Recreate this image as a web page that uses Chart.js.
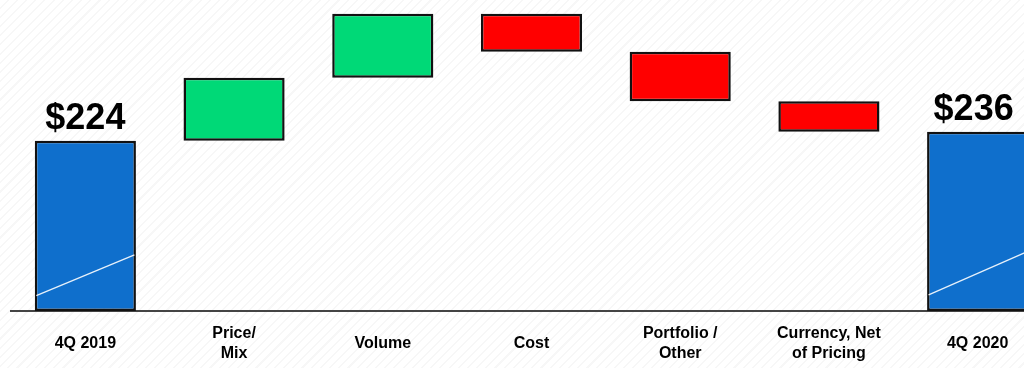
<!DOCTYPE html>
<html>
<head>
<meta charset="utf-8">
<script src="https://cdn.jsdelivr.net/npm/chart.js@4.4.1/dist/chart.umd.min.js"></script>
<style>
  html, body {
    margin: 0;
    padding: 0;
    width: 1024px;
    height: 368px;
    overflow: hidden;
    background-color: #ffffff;
    background-image: repeating-linear-gradient(135deg, rgba(0,0,0,0) 0px, rgba(0,0,0,0) 5px, rgba(0,0,0,0.03) 5px, rgba(0,0,0,0.03) 6.5px);
  }
  #wrap { position: absolute; left: 0; top: 0; width: 1052px; height: 368px; }
</style>
</head>
<body>
<div id="wrap"><canvas id="chart" width="1052" height="368"></canvas></div>
<script>
// Bridge categories (first and last are totals)
const categories = [
  '4Q 2019',
  ['Price/', 'Mix'],
  'Volume',
  'Cost',
  ['Portfolio /', 'Other'],
  ['Currency, Net', 'of Pricing'],
  '4Q 2020'
];
const startTotal = 224;
const endTotal = 236;
// Step changes between the two totals
const changes = [83, 84, -50, -65, -40];
const totalLabels = ['$224', '$236'];

const COLOR_TOTAL = '#0f6fcc';
const COLOR_UP = '#00d977';
const COLOR_DOWN = '#ff0000';

// Floating ranges for each bar
const ranges = [[0, startTotal]];
let running = startTotal;
changes.forEach(c => {
  ranges.push([running, running + c]);
  running += c;
});
ranges.push([0, endTotal]);

const colors = ranges.map((r, i) => {
  if (i === 0 || i === ranges.length - 1) return COLOR_TOTAL;
  return changes[i - 1] >= 0 ? COLOR_UP : COLOR_DOWN;
});

// Value labels above the two total bars, and the thin highlight line inside them
const totalsPlugin = {
  id: 'totals',
  afterDatasetsDraw(chart) {
    const meta = chart.getDatasetMeta(0);
    const ctx = chart.ctx;
    const idx = [0, ranges.length - 1];
    idx.forEach((i, k) => {
      const bar = meta.data[i];
      const left = bar.x - bar.width / 2;
      const right = bar.x + bar.width / 2;
      const h = bar.base - bar.y;
      ctx.save();
      ctx.strokeStyle = 'rgba(255,255,255,0.9)';
      ctx.lineWidth = 1.3;
      ctx.beginPath();
      ctx.moveTo(left + 1.5, bar.base - 0.09 * h);
      ctx.lineTo(right - 1.5, bar.base - 0.33 * h);
      ctx.stroke();
      ctx.restore();

      ctx.save();
      ctx.fillStyle = '#000';
      ctx.font = 'bold 36px "Liberation Sans", Arial, sans-serif';
      ctx.textAlign = 'center';
      ctx.textBaseline = 'alphabetic';
      ctx.fillText(totalLabels[k], bar.x - (k === 1 ? 4 : 0), bar.y - 12);
      ctx.restore();
    });
  }
};

new Chart(document.getElementById('chart'), {
  type: 'bar',
  data: {
    labels: categories,
    datasets: [{
      data: ranges,
      backgroundColor: colors,
      borderColor: '#111111',
      borderWidth: 2.5,
      borderSkipped: false,
      barPercentage: 0.68,
      categoryPercentage: 1.0
    }]
  },
  options: {
    responsive: false,
    animation: false,
    devicePixelRatio: 1,
    layout: { padding: { left: 11, right: 0, top: 7, bottom: 0 } },
    plugins: {
      legend: { display: false },
      tooltip: { enabled: false }
    },
    scales: {
      x: {
        grid: { display: false, drawTicks: false },
        border: { display: true, color: '#444444', width: 2 },
        ticks: {
          color: '#000000',
          padding: 23,
          crossAlign: 'center',
          maxRotation: 0,
          autoSkip: false,
          font: { family: '"Liberation Sans", Arial, sans-serif', size: 16, weight: 'bold', lineHeight: 1.25 }
        },
        afterFit(scale) { scale.height = 57; }
      },
      y: {
        display: false,
        min: 0,
        max: 400
      }
    }
  },
  plugins: [totalsPlugin]
});
</script>
</body>
</html>
